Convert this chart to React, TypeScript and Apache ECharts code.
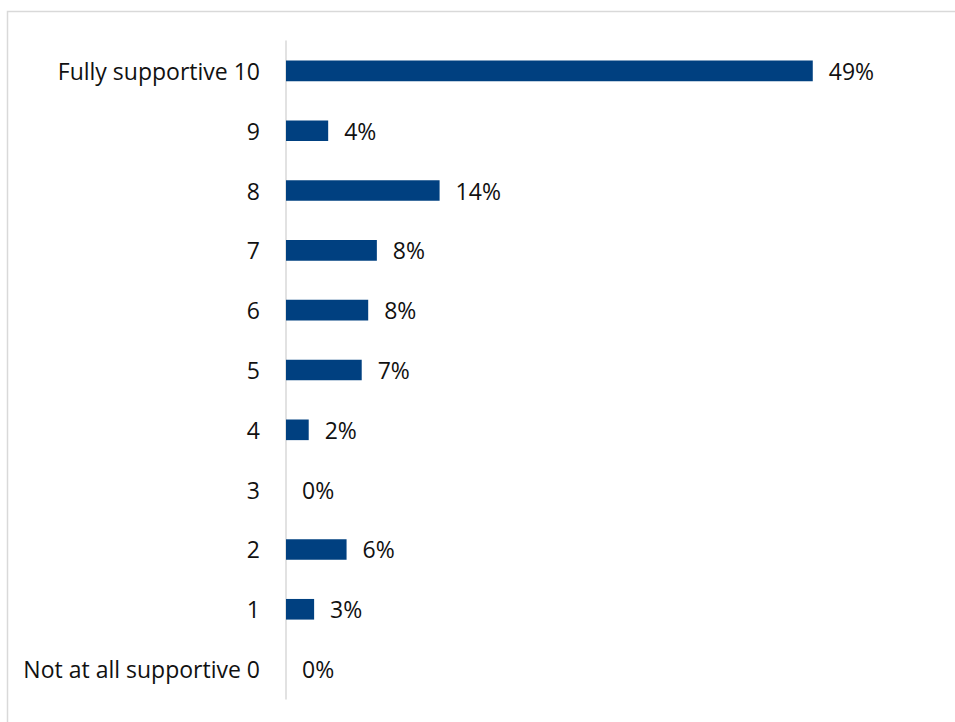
import React, { useEffect, useRef } from "react";
import * as echarts from "echarts";

const categories = [
  "Fully supportive 10",
  "9",
  "8",
  "7",
  "6",
  "5",
  "4",
  "3",
  "2",
  "1",
  "Not at all supportive 0",
];
const values = [48.7, 3.9, 14.2, 8.4, 7.6, 7.0, 2.1, 0, 5.6, 2.6, 0];

export default function App() {
  const ref = useRef<HTMLDivElement>(null);
  useEffect(() => {
    const chart = echarts.init(ref.current!, null, { renderer: "svg" });
    chart.setOption({
      animation: false,
      textStyle: { fontFamily: "Open Sans" },
      graphic: [
        {
          type: "rect",
          shape: { x: 7.5, y: 11.5, width: 1100, height: 900 },
          style: { fill: "none", stroke: "#d9d9d9", lineWidth: 1.5 },
          silent: true,
        },
      ],
      grid: { left: 286, right: 20, top: 41, bottom: 23, containLabel: false },
      xAxis: {
        type: "value",
        min: 0,
        max: 60,
        show: false,
      },
      yAxis: {
        type: "category",
        inverse: true,
        data: categories,
        axisLine: { show: true, lineStyle: { color: "#d9d9d9", width: 1.5 } },
        axisTick: { show: false },
        axisLabel: { color: "#111", fontSize: 23, margin: 26, fontFamily: "Open Sans" },
      },
      series: [
        {
          type: "bar",
          data: values,
          barWidth: "34.5%",
          itemStyle: { color: "#004080" },
          label: {
            show: true,
            position: "right",
            distance: 16,
            color: "#111",
            fontSize: 23,
            fontFamily: "Open Sans",
            formatter: (p: any) => Math.round(p.value) + "%",
          },
        },
      ],
    });
    return () => chart.dispose();
  }, []);
  return (
    <div
      ref={ref}
      style={{ position: "absolute", left: 0, top: 0, width: 955, height: 722, background: "#fff" }}
    />
  );
}
